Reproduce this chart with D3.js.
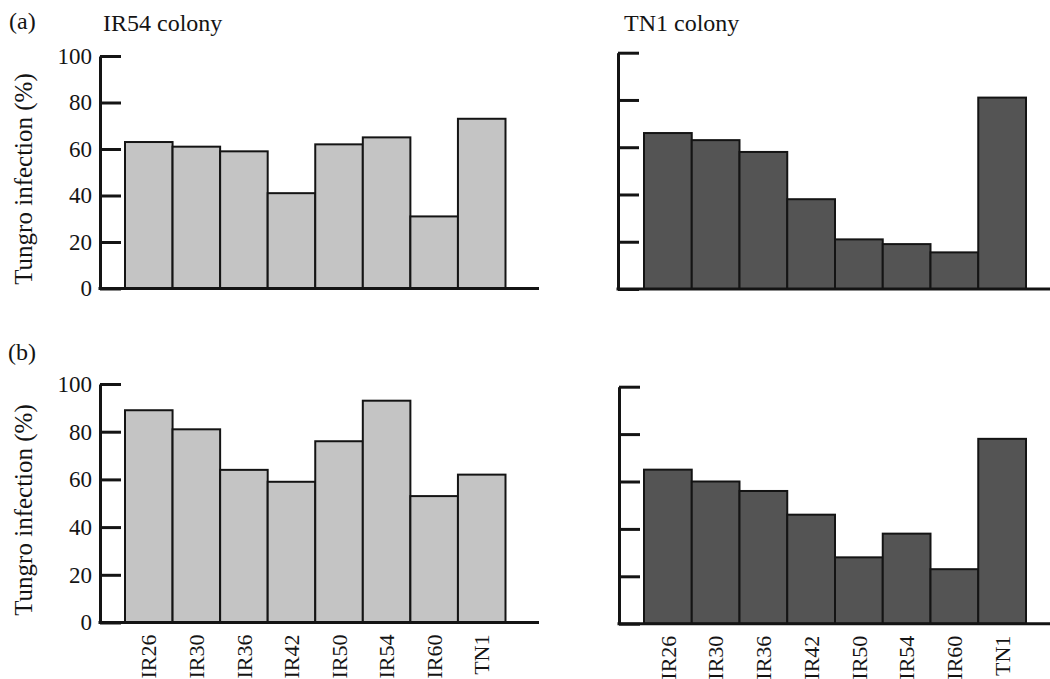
<!DOCTYPE html>
<html>
<head>
<meta charset="utf-8">
<script src="https://cdn.jsdelivr.net/npm/d3@7"></script>
<style>
  html, body { margin: 0; padding: 0; background: #fff; }
  svg { display: block; }
</style>
</head>
<body>
<svg id="chart" width="1050" height="679"></svg>
<script>
// Rice varieties tested (x categories)
const varieties = ["IR26", "IR30", "IR36", "IR42", "IR50", "IR54", "IR60", "TN1"];

// Tungro infection (%) per variety
const infectionA_IR54 = [63, 61, 59, 41, 62, 65, 31, 73];
const infectionA_TN1  = [66, 63, 58, 38, 21, 19, 15.5, 81];
const infectionB_IR54 = [89, 81, 64, 59, 76, 93, 53, 62];
const infectionB_TN1  = [65, 60, 56, 46, 28, 38, 23, 78];

// Axis ticks
const yTicks = [0, 20, 40, 60, 80, 100];

const FONT = "Liberation Serif";
const svg = d3.select("#chart");

const lightFill = "#c4c4c4";
const darkFill = "#545454";
const ink = "#141414";

// One panel per colony and experiment
const panels = [
  { values: infectionA_IR54, fill: lightFill, axisX: 100, barX: [125, 505.5], axisEnd: 539, y: [288.5, 56],  tickLabels: true,  xLabels: false },
  { values: infectionA_TN1,  fill: darkFill,  axisX: 618, barX: [644, 1026],  axisEnd: 1050, y: [289, 52.7], tickLabels: false, xLabels: false },
  { values: infectionB_IR54, fill: lightFill, axisX: 100, barX: [125, 505.5], axisEnd: 539, y: [622.5, 384], tickLabels: true,  xLabels: true },
  { values: infectionB_TN1,  fill: darkFill,  axisX: 619, barX: [644, 1026],  axisEnd: 1050, y: [623.7, 386.7], tickLabels: false, xLabels: true }
];

panels.forEach(p => {
  const x = d3.scaleBand().domain(varieties).range(p.barX).padding(0);
  const y = d3.scaleLinear().domain([0, 100]).range(p.y);
  const g = svg.append("g");

  // Bars
  g.selectAll("rect.bar")
    .data(varieties.map((v, i) => ({ v, val: p.values[i] })))
    .join("rect")
    .attr("class", "bar")
    .attr("x", d => x(d.v))
    .attr("width", x.bandwidth())
    .attr("y", d => y(d.val))
    .attr("height", d => y(0) - y(d.val))
    .attr("fill", p.fill)
    .attr("stroke", ink)
    .attr("stroke-width", 2);

  // Y axis with inward ticks
  const yAxis = d3.axisLeft(y)
    .tickValues(yTicks)
    .tickSizeInner(-21)
    .tickSizeOuter(0)
    .tickPadding(8)
    .tickFormat(p.tickLabels ? d3.format("d") : () => "");
  const ya = g.append("g")
    .attr("transform", `translate(${p.axisX},0)`)
    .call(yAxis)
    .attr("font-family", FONT)
    .attr("font-size", 23);
  ya.select(".domain").attr("stroke", ink).attr("stroke-width", 3);
  ya.selectAll(".tick line").attr("stroke", ink).attr("stroke-width", 3);
  ya.selectAll(".tick text").attr("fill", ink);

  // X baseline
  g.append("line")
    .attr("x1", p.axisX - 1.5).attr("x2", p.axisEnd)
    .attr("y1", y(0)).attr("y2", y(0))
    .attr("stroke", ink).attr("stroke-width", 3);

  // Rotated variety labels
  if (p.xLabels) {
    const xAxis = d3.axisBottom(x).tickSize(0).tickPadding(0);
    const xa = g.append("g")
      .attr("transform", `translate(0,${y(0)})`)
      .call(xAxis)
      .attr("font-family", FONT)
      .attr("font-size", 22);
    xa.select(".domain").remove();
    xa.selectAll(".tick text")
      .attr("fill", ink)
      .attr("transform", "rotate(-90)")
      .attr("text-anchor", "end")
      .attr("x", -12)
      .attr("y", 0)
      .attr("dy", "0.35em");
  }
});

// Y axis titles
[179, 510].forEach(cy => {
  svg.append("text")
    .attr("transform", `translate(32,${cy}) rotate(-90)`)
    .attr("text-anchor", "middle")
    .attr("fill", ink)
    .attr("font-family", FONT)
    .attr("font-size", 25)
    .text("Tungro infection (%)");
});

// Panel tags and colony titles
const labels = [
  { x: 9,   y: 29,  t: "(a)" },
  { x: 8,   y: 360, t: "(b)" },
  { x: 103, y: 31,  t: "IR54 colony" },
  { x: 624, y: 31,  t: "TN1 colony" }
];
svg.selectAll("text.tag")
  .data(labels)
  .join("text")
  .attr("class", "tag")
  .attr("x", d => d.x)
  .attr("y", d => d.y)
  .attr("fill", ink)
  .attr("font-family", FONT)
  .attr("font-size", 24)
  .text(d => d.t);
</script>
</body>
</html>
